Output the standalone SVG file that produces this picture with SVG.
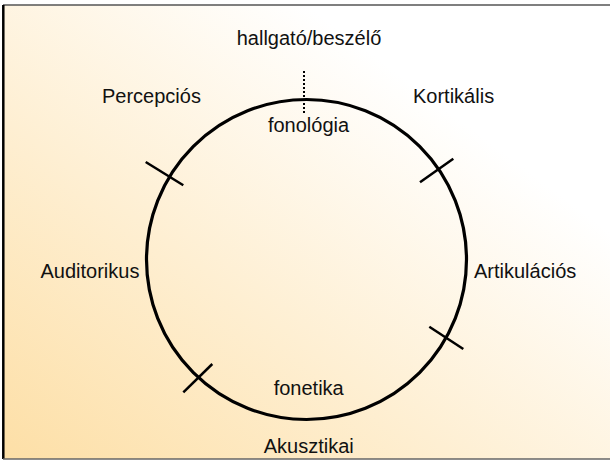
<svg xmlns="http://www.w3.org/2000/svg" width="610" height="461" viewBox="0 0 610 461">
  <defs>
    <linearGradient id="bg" x1="0" y1="1" x2="1" y2="0">
      <stop offset="0" stop-color="#fddfa6"/>
      <stop offset="0.75" stop-color="#ffffff"/>
      <stop offset="1" stop-color="#ffffff"/>
    </linearGradient>
    <style>
      .lbl { font-family: "Liberation Sans", Arial, sans-serif; font-size: 20px; fill: #111; }
      .tick { stroke: #000; stroke-width: 2.5; }
    </style>
  </defs>
  <rect x="0" y="0" width="610" height="461" fill="#ffffff"/>
  <rect x="3" y="5" width="607" height="454" fill="url(#bg)"/>
  <line x1="3" y1="5" x2="610" y2="5" stroke="#555" stroke-width="1.5"/>
  <line x1="3.3" y1="5" x2="3.3" y2="459" stroke="#000" stroke-width="2.5"/>
  <line x1="3" y1="459" x2="610" y2="459" stroke="#666" stroke-width="1.5"/>

  <g id="cycle">
    <circle cx="306.5" cy="259.5" r="160" fill="none" stroke="#000" stroke-width="3.2"/>
  </g>
  <g id="connectors">
    <line x1="304" y1="71" x2="304" y2="113" stroke="#000" stroke-width="2" stroke-dasharray="2,2"/>
    <line class="tick" x1="145.7" y1="162" x2="183.3" y2="185.3"/>
    <line class="tick" x1="420" y1="182.3" x2="453.3" y2="158.7"/>
    <line class="tick" x1="429.3" y1="326.7" x2="463.3" y2="349"/>
    <line class="tick" x1="212.3" y1="364" x2="183.3" y2="392.3"/>
  </g>
  <g id="hallgato"><text class="lbl" x="309" y="45" text-anchor="middle">hallgató/beszélő</text></g>
  <g id="percepcios"><text class="lbl" x="102" y="103">Percepciós</text></g>
  <g id="kortikalis"><text class="lbl" x="413" y="103">Kortikális</text></g>
  <g id="fonologia"><text class="lbl" x="308.5" y="132" text-anchor="middle">fonológia</text></g>
  <g id="auditorikus"><text class="lbl" x="40.5" y="278">Auditorikus</text></g>
  <g id="artikulacios"><text class="lbl" x="474" y="278">Artikulációs</text></g>
  <g id="fonetika"><text class="lbl" x="308.7" y="395" text-anchor="middle">fonetika</text></g>
  <g id="akusztikai"><text class="lbl" x="308.7" y="453" text-anchor="middle">Akusztikai</text></g>
</svg>
